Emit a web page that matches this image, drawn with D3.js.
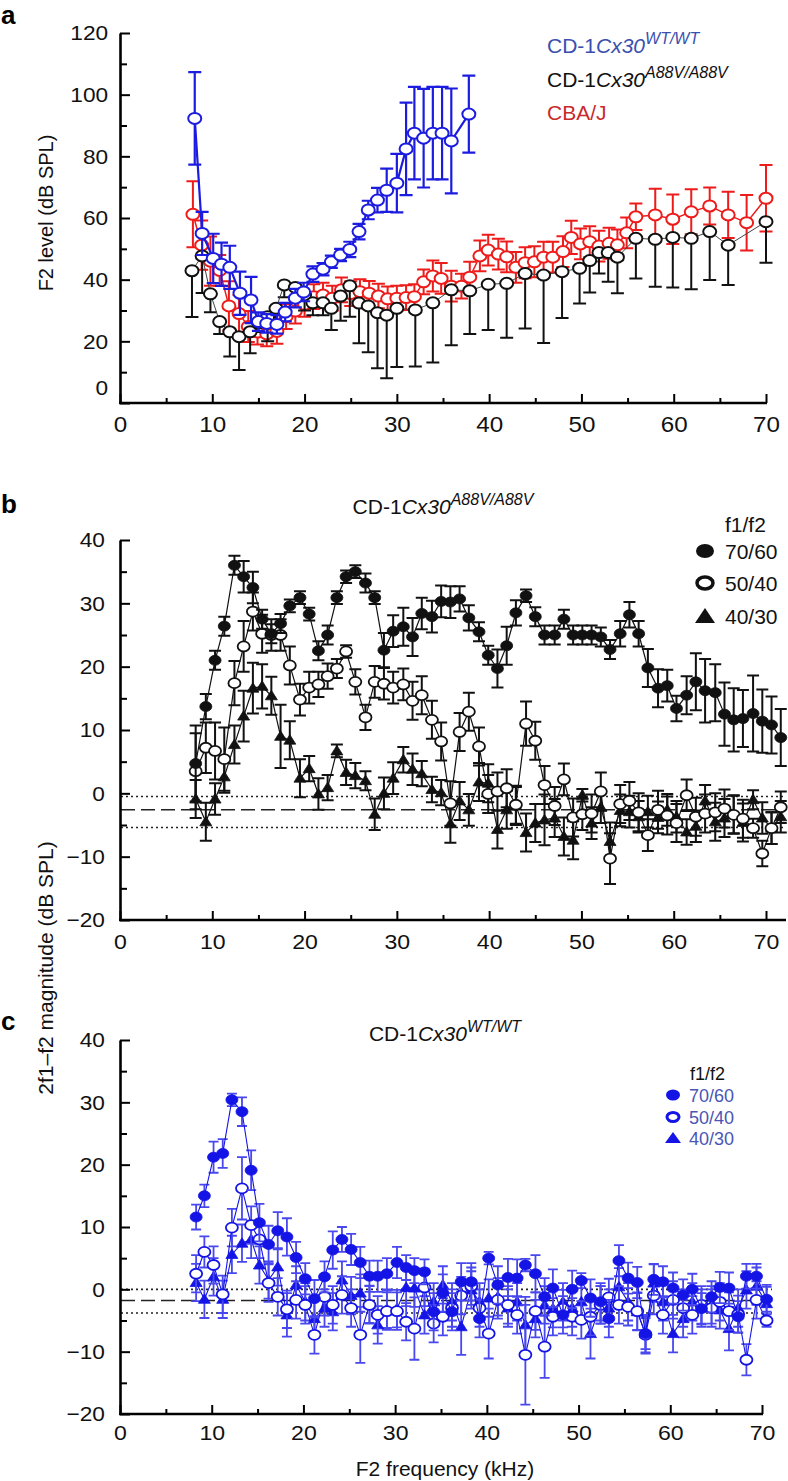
<!DOCTYPE html>
<html><head><meta charset="utf-8">
<script src="https://cdn.jsdelivr.net/npm/d3@7"></script>
<style>body{margin:0;background:#fff}svg{display:block}</style>
</head><body><svg id="chart" width="788" height="1481"></svg>
<script>
// ---------- Panel a data ----------
const aBlueFreq  = [8.1,8.9,10.1,11,11.9,13,14.2,15,15.9,17,17.9,19,19.9,20.9,22,22.9,23.9,24.9,25.9,26.9,27.9,28.9,30,31,31.9,32.9,33.9,34.9,35.9,37.8];
const aBlueLevel = [92.3,55,46.9,45,44,35.6,33.4,26.4,25.8,25.5,29.5,34,36,41.8,43.4,45.8,48,49.8,55.6,62.6,65.8,69,71.3,82.4,87.5,85.9,87.5,87.5,85,93.7];
const aBlueSD    = [15,7,8,7,7,7,7.5,3,3,3,3,3,3,2.5,2,2,2,2.5,2.5,3,4,7,9.5,15,15,16,15,15,17,12.5];

const aBlackFreq  = [7.8,8.9,9.8,10.8,11.9,12.9,14.1,15,16,16.9,17.8,19,20,20.9,22,22.9,23.9,24.9,25.9,26.9,27.9,28.9,30,32,33.9,35.9,37.9,39.9,41.9,43.9,45.9,47.9,49.8,50.9,51.9,52.9,53.9,55.9,58,59.9,61.9,63.9,65.9,70];
const aBlackLevel = [42.9,47.7,35.4,26.4,23.1,21.5,23.1,26,28,30.7,38.3,37.5,35,32.5,32.5,30.7,34.7,38,32.4,31.5,29.3,28.5,30.7,30.2,32.5,36.7,36.4,38.5,38.8,42,41.5,42.6,43.7,46.2,48.8,48.8,47.3,53.4,53.1,53.7,53.4,55.6,51.2,58.8];
const aBlackSD    = [15,12,6,4,8,10.8,7,3,8,6,4,4,5,4,4,7,8,10,13,15,18,20.5,19,18.4,19.4,18,14,14.8,17.6,17.8,22,15,11.4,10.4,6.8,9.5,11.7,13,15.4,16.2,16.5,15.7,12.9,13.3];

const aRedFreq  = [7.9,8.85,9.8,10.8,11.8,12.9,13.9,14.9,15.9,17,18,19,20,21,22,23,24,25,26,27,28,29,30,31,31.9,32.9,33.9,34.8,35.9,37,37.9,39,39.9,41,41.9,42.9,43.9,44.9,45.9,46.9,48,48.9,49.9,50.9,51.9,53,53.9,54.9,55.9,58,59.9,61.9,63.9,65.9,67.9,70];
const aRedLevel = [61.2,51.2,46,43,31.5,29,24.8,23,22.4,23.2,28,29.8,32,34.5,35,34,36.7,35.5,36.1,35.6,34.7,33.8,34,34.2,34.5,39.3,41.2,40.4,37.9,37.9,40.8,47.7,49.6,48.3,47.4,44,45.5,45.8,47.3,47.3,49.1,53.7,51.6,52.3,50.9,51.8,51.3,55.2,60.4,61,59.6,62,63.9,61,58.5,66.4];
const aRedSD    = [10.7,8,8,5,8,6,5,4,4,4,4,4,4,4,4,4,4,4,4,4,4,4,4,4,4,4,5,5,5,4,5,5,5,5,5,5,5,5,5,5,5,5.4,5,5,5,5,5,5,4.3,8.5,8,7.3,6,7.5,9,10.8];

const aLegendLabels = ["CD-1", "Cx30", "WT/WT", "A88V/A88V", "CBA/J"];
const aYTicks = [0,20,40,60,80,100,120];
const aYMinor = [10,30,50,70,90,110];
const xTicks  = [0,10,20,30,40,50,60,70];
const xMinor  = [5,15,25,35,45,55,65];

// ---------- Panel b data (CD-1 Cx30 A88V/A88V) ----------
const freqB = [8.2,9.3,10.3,11.3,12.4,13.4,14.4,15.4,16.4,17.4,18.4,19.5,20.5,21.5,22.5,23.5,24.5,25.5,26.6,27.6,28.6,29.6,30.7,31.7,32.7,33.8,34.8,35.8,36.8,37.8,38.9,39.9,40.9,41.9,42.9,44.0,45.0,46.0,47.1,48.1,49.1,50.1,51.1,52.1,53.1,54.2,55.2,56.2,57.2,58.3,59.3,60.3,61.4,62.4,63.4,64.5,65.5,66.5,67.5,68.6,69.6,70.6,71.6];
const b7060 = [4.7,13.7,21,26.4,36,34.2,32.5,27.5,25.2,26.8,29.6,30.9,28.3,22.5,25,30.9,34.2,35,33.2,30.9,22.6,25.6,26.3,24.7,28.4,27.9,30.3,30.2,30.7,27.7,25.5,21.8,19.7,23.3,28.5,31.2,27.9,25,25,27.5,25,25,25,24.7,22.7,25.2,28.2,25.2,19.8,16.6,17,13.4,15.5,17.6,16.2,15.9,12.5,11.6,11.8,12.6,11.4,10.8,8.8];
const b7060Err = [6,2,1.5,1.5,1.5,2.5,2.5,1.5,1.5,1.5,1,1,1,1.5,1.5,1,1,1,1.5,1,2.7,2.5,3,3,2.5,2.5,2.5,2.5,2,2,1.5,1.5,3,3,2,1,1.5,1.5,1.5,1.5,1.5,1.5,1.5,1.5,1.5,2,2,2,3,3,2.5,2,3,4.5,5,4.5,5,5,4.5,6,5,4.5,4.5];
const b5040 = [3.5,7.2,6.7,5.4,17.4,23.2,28.7,25.2,25,25,20.2,14.8,16.7,17.2,18.5,19.7,22.4,17.6,12,17.6,17.3,16.7,17.2,14.6,15.5,11.6,8.2,-1.6,9.7,12.9,7.4,-0.1,0.3,0.8,-1.8,11,8.3,1.3,-2,2.2,-3.8,-3.3,-3.2,0.3,-10.3,-1.7,-1.2,-3,-6.6,-2.6,-3.5,-4.7,-0.3,-3.7,-3.2,-3,-2.4,-3.4,-4,-5.5,-9.5,-5.5,-2.2];
const b5040Err = [6,4,4.5,5,3.5,4,3,3,2.5,2.5,3,2.5,2.5,2,2,1.5,1,2,2,2.5,2.5,2.5,2.5,3,3,3,3,3.5,3,3,3,3,3,3,3,3.5,3,3,3,2.5,3,2.5,3,3,4,3,3,3,2.5,3,3,3,2.5,3,3,3,3,3,3,1.5,2,2.5,2.5];
const b4030 = [-0.9,-4.5,-0.9,2.6,7.7,12.2,16.6,16.9,15.4,9,8.4,2.4,3.9,-0.1,0.9,6.7,3.3,2.8,2,-3.3,0,2.4,5.3,3.8,3.1,0.6,0.1,-4.8,-1.2,-2.6,1.8,1.6,-5.7,-2.6,-2,-6.2,-4.7,-4.2,-3.9,-6.8,-7.4,-0.3,-4.7,-2.2,-7.6,-2.7,-2.9,-3.7,-2.9,-3.8,-2.6,-3.7,-6.1,-5.2,-1.2,-4.5,-3.9,-3.3,-4.6,-1,-3.9,-5.5,-3.7];
const b4030Err = [3,3,2.5,2.5,3,4,4,3.5,3,5,3,3,2,2.5,2,1,2,2,1.5,2.5,2.5,2.5,2,2.5,2,2,2,3,3,2.5,3,3,3,3,3,3,3,4,3,3,3,1,2.5,2.5,3,2.5,2.5,2.5,2.5,2.5,2.5,2.5,2,2.5,2.5,3,3,3,3,1.5,2.5,2.5,2.5];
const bNoiseLevels = [-0.5, -2.6, -5.4];

// ---------- Panel c data (CD-1 Cx30 WT/WT) ----------
const freqC = [8.3,9.2,10.2,11.2,12.2,13.3,14.3,15.2,16.2,17.2,18.2,19.2,20.2,21.2,22.3,23.2,24.2,25.2,26.2,27.2,28.1,29.1,30.2,31.2,32.1,33.2,34.2,35.2,36.2,37.2,38.3,39.2,40.2,41.2,42.3,43.3,44.2,45.3,46.3,47.2,48.3,49.3,50.3,51.3,52.4,53.3,54.4,55.4,56.4,57.3,58.2,59.2,60.3,61.4,62.4,63.4,64.5,65.4,66.4,67.4,68.3,69.4,70.5];
const c7060 = [11.6,15,21.2,21.8,30.4,28.5,19.1,10.7,7.2,9.4,8.4,5.1,1.7,-1.5,2,6.3,8,6.4,4.3,2.1,2.1,2.5,4.3,3.5,3,2.8,-3.6,-0.6,-3.6,1.2,1.2,-4.7,5,0.7,1.9,1.8,3.9,2.5,-1.2,0.2,-4.1,0,1.4,-1.4,-2,-4.7,4.6,1.8,1.1,-7.1,1.6,1.2,0.2,-0.9,0,-3.1,-1.2,0.3,0.2,-4.4,2.1,2.1,-1.6];
const c7060Err = [2,1.8,2.5,2.3,1,2.3,3.2,3,3,3,3,2.5,2.5,3,2.5,3,2,2.5,2.5,2.5,2.5,2.5,2.5,2,2,2,3,3,3,3,3,3,1,3,3,3,1,3,3,3,3,3,1.2,3,3,3,2.5,2.5,2.5,2.5,2.5,2.5,2.5,2.5,2.5,2.5,2.5,2.5,2.5,2.5,2,2,2];
const c5040 = [2.5,6,3.9,-0.8,9.9,16.2,10.3,8,1,-1.2,-3.2,-1.7,-2.5,-7.3,-1.2,-2.5,-0.9,-3,-7.3,-2.5,-4.1,-3.5,-3.5,-5.2,-6.3,0.3,-5.5,-4.4,-3,-1,0.5,-3,-7.1,-1.7,-2.5,-4.1,-10.5,-3.5,-9.2,-4.4,-3.1,-4.4,-4.9,-4.4,-2.5,-1.3,-2.5,-2.8,-3.5,-7.3,-1,-4.1,-1.7,-3,-4.1,-2.5,-3,-2,-3.5,-4,-11.3,-1.7,-5];
const c5040Err = [3,2.5,3,3,3,5,3,3,3,3,3,3,3,3,3,3,3,3,4.5,3,3,3,3,3,5,3,3,3,3,3,3,3,4,3,3,3,8,3,5,3,3,3,3,3,3,3,3,3,3,3,3,3,3,3,3,3,3,3,3,3,2.5,3,1];
const c4030 = [1.1,-1.6,2,-1.6,5.6,7.4,8,3.9,1.5,3.6,-4.1,0.7,-2,-4.7,-3,-3.6,1.5,-1,-0.6,-2.4,-5.7,-3.2,-3.1,0.3,0.2,-4.1,-2,0.7,-2,-6,-0.1,-2,-1.4,-1.2,-3,-2,-5.7,-4.7,-2.5,-3.1,-2,-3,-2,-7.1,-2.5,-3,0.4,-2,-3.6,-7.1,1,-2,-7.1,-4.7,-2,-3,-2.5,-3.3,-6.3,-3,-0.1,0.5,-2.3];
const c4030Err = [3,3,3,3,3,3,3,3,3,3,3.5,3,3,3,3,3,3,3,3,3,3,3,3,3,3,3,3,3,3,4.5,3,3,3,3,3,3,4.5,3,3,3,3,3,3,4,3,3,3,3,3,3,3,3,3,3,3,3,3,3,3.5,3,3,3,3];
const cNoiseLevels = [0, -1.8, -3.8];

const bcYTicks = [-20,-10,0,10,20,30,40];
const bcYMinor = [-15,-5,5,15,25,35];
const legendRatios = ["70/60", "50/40", "40/30"];

// ---------- drawing ----------
const FONT = '"Liberation Sans", Arial, Helvetica, sans-serif';
const svg = d3.select('#chart');

const aX = d3.scaleLinear([0,70],[120,766]);
const aY = d3.scaleLinear([0,120],[403,33]);
const bX = d3.scaleLinear([0,70],[120,766]);
const bY = d3.scaleLinear([-20,40],[920,540]);
const cX = d3.scaleLinear([0,70],[120,762]);
const cY = d3.scaleLinear([-20,40],[1414,1040]);

function yAxis(scale, x, majors, minors, pad, fs) {
  const g = svg.append('g').attr('transform', `translate(${x},0)`);
  g.call(d3.axisLeft(scale).tickValues(majors).tickSizeInner(-10).tickSizeOuter(0).tickPadding(pad).tickFormat(d3.format('d')));
  const m = g.append('g').call(d3.axisLeft(scale).tickValues(minors).tickSizeInner(-7).tickSizeOuter(0).tickFormat(''));
  m.select('.domain').remove();
  g.selectAll('.domain').attr('stroke','#000').attr('stroke-width',2.6);
  g.selectAll('.tick line').attr('stroke','#000').attr('stroke-width',2);
  g.selectAll('text').attr('font-family',FONT).attr('font-size',fs).attr('fill','#111')
    .attr('transform','scale(1.08,1)');
  return g;
}
function xAxis(scale, y, pad, fs, xEnd) {
  const g = svg.append('g').attr('transform', `translate(0,${y})`);
  g.call(d3.axisBottom(scale).tickValues(xTicks).tickSizeInner(-9).tickSizeOuter(0).tickPadding(pad).tickFormat(d3.format('d')));
  g.append('g').call(d3.axisBottom(scale).tickValues(xMinor).tickSizeInner(-5).tickSizeOuter(0).tickFormat(''));
  g.selectAll('.domain').remove();
  g.append('line').attr('x1', scale(0)-1).attr('x2', xEnd).attr('stroke','#000').attr('stroke-width',2.6);
  g.selectAll('.tick line').attr('stroke','#000').attr('stroke-width',2);
  g.selectAll('text').attr('font-family',FONT).attr('font-size',fs).attr('fill','#111')
    .attr('transform','scale(1.1,1)');
  return g;
}

function drawSeries(xs, ys, es, sx, sy, o) {
  const g = svg.append('g');
  const pts = xs.map((f,i)=>({f:f, v:ys[i], e:es[i]}));
  const cw = o.cap/2;
  g.append('g').selectAll('path').data(pts).join('path')
    .attr('fill','none').attr('stroke', o.errColor || o.color).attr('stroke-width', o.errW)
    .attr('d', d => {
      const x = sx(d.f), yt = o.down ? sy(d.v) : sy(d.v + d.e), yb = sy(d.v - d.e);
      let p = `M${x},${yt}V${yb}M${x-cw},${yb}H${x+cw}`;
      if (!o.down) p += `M${x-cw},${yt}H${x+cw}`;
      return p;
    });
  g.append('path').datum(pts).attr('fill','none').attr('stroke', o.lineColor || o.color).attr('stroke-width', o.lineW)
    .attr('d', d3.line().x(d=>sx(d.f)).y(d=>sy(d.v)));
  const mk = g.append('g');
  if (o.marker === 'tri') {
    mk.selectAll('path').data(pts).join('path')
      .attr('fill', o.color).attr('stroke', o.color).attr('stroke-width',0.8)
      .attr('d', d => { const x=sx(d.f), y=sy(d.v); return `M${x},${y-5.5}L${x+6},${y+4}L${x-6},${y+4}Z`; });
  } else {
    mk.selectAll('ellipse').data(pts).join('ellipse')
      .attr('cx', d=>sx(d.f)).attr('cy', d=>sy(d.v)).attr('rx', o.rx).attr('ry', o.ry)
      .attr('fill', o.marker === 'filled' ? o.color : '#fff')
      .attr('stroke', o.color).attr('stroke-width', o.marker === 'filled' ? 0.8 : o.mkW);
  }
}

function noiseLines(levels, sx, sy, xEnd) {
  const styles = ['2,3','14,6','2,3'];
  svg.append('g').selectAll('line').data(levels).join('line')
    .attr('x1', 121).attr('x2', xEnd).attr('y1', d=>sy(d)).attr('y2', d=>sy(d))
    .attr('stroke','#222').attr('stroke-width',1.6).attr('stroke-dasharray',(d,i)=>styles[i]);
}

function panelLetter(t, x, y) {
  svg.append('text').attr('x',x).attr('y',y).text(t).attr('font-family',FONT)
    .attr('font-weight','bold').attr('font-size',26).attr('fill','#000');
}

function genotypeTitle(x, y, sup, color, anchor, fs, sfs) {
  const t = svg.append('text').attr('x',x).attr('y',y).attr('font-family',FONT)
    .attr('font-size',fs).attr('fill',color).attr('text-anchor',anchor);
  t.append('tspan').text(aLegendLabels[0]);
  t.append('tspan').attr('font-style','italic').text(aLegendLabels[1]);
  t.append('tspan').attr('font-style','italic').attr('font-size',sfs).attr('dy',-9).text(sup);
  return t;
}

// ===== Panel a =====
panelLetter('a', 1, 24);
const ya = yAxis(aY, 120, aYTicks, aYMinor, 11, 21);
ya.selectAll('.tick').filter(d=>d===0).select('text').attr('y',-15);
xAxis(aX, 403, 13, 22, 767);
svg.append('text').attr('transform','translate(53,213) rotate(-90)').attr('text-anchor','middle')
  .attr('font-family',FONT).attr('font-size',20).attr('fill','#111').text('F2 level (dB SPL)');

drawSeries(aRedFreq, aRedLevel, aRedSD, aX, aY, {color:'#ee1b1b', errW:2, cap:13, lineW:1.5, marker:'open', rx:6.5, ry:5.5, mkW:2});
drawSeries(aBlackFreq, aBlackLevel, aBlackSD, aX, aY, {color:'#111', errW:2, cap:13, lineW:1, lineColor:'#444', marker:'open', rx:6.5, ry:5.5, mkW:2, down:true});
drawSeries(aBlueFreq, aBlueLevel, aBlueSD, aX, aY, {color:'#1c1ce0', errW:2.2, cap:13, lineW:2.2, marker:'open', rx:6.5, ry:5.5, mkW:2});

genotypeTitle(547, 53, aLegendLabels[2], '#3b4fae', 'start', 21, 16);
genotypeTitle(547, 87, aLegendLabels[3], '#111', 'start', 21, 16);
svg.append('text').attr('x',547).attr('y',120).attr('font-family',FONT).attr('font-size',21)
  .attr('fill','#c92a2a').text(aLegendLabels[4]);

// ===== Panel b =====
panelLetter('b', 1, 513);
noiseLines(bNoiseLevels, bX, bY, 786);
yAxis(bY, 120, bcYTicks, bcYMinor, 14, 21);
xAxis(bX, 920, 14, 21, 786);
drawSeries(freqB, b4030, b4030Err, bX, bY, {color:'#111', errW:2, cap:12, lineW:1.2, marker:'tri'});
drawSeries(freqB, b5040, b5040Err, bX, bY, {color:'#111', errW:2, cap:12, lineW:1.2, marker:'open', rx:6, ry:5, mkW:1.8});
drawSeries(freqB, b7060, b7060Err, bX, bY, {color:'#111', errW:2, cap:12, lineW:1.2, marker:'filled', rx:6, ry:5});
genotypeTitle(443, 514, aLegendLabels[3], '#111', 'middle', 21, 16);

// legend b
const lb = svg.append('g');
lb.append('text').attr('x',725).attr('y',532).attr('font-family',FONT).attr('font-size',21).attr('fill','#111').text('f1/f2');
const lbY = [551, 583, 616];
lb.append('ellipse').attr('cx',705).attr('cy',lbY[0]).attr('rx',9).attr('ry',7).attr('fill','#111');
lb.append('ellipse').attr('cx',705).attr('cy',lbY[1]).attr('rx',8).attr('ry',6).attr('fill','#fff').attr('stroke','#111').attr('stroke-width',3.5);
lb.append('path').attr('d',`M705,${lbY[2]-8}L715,${lbY[2]+7}L695,${lbY[2]+7}Z`).attr('fill','#111');
lb.selectAll('text.r').data(legendRatios).join('text').attr('class','r')
  .attr('x',725).attr('y',(d,i)=>lbY[i]+8).attr('font-family',FONT).attr('font-size',21).attr('fill','#111').text(d=>d);

// shared y title
svg.append('text').attr('transform','translate(53,968) rotate(-90)').attr('text-anchor','middle')
  .attr('font-family',FONT).attr('font-size',21).attr('fill','#111').text('2f1\u2013f2 magnitude (dB SPL)');

// ===== Panel c =====
panelLetter('c', 1, 1030);
noiseLines(cNoiseLevels, cX, cY, 772);
yAxis(cY, 120, bcYTicks, bcYMinor, 14, 21);
xAxis(cX, 1414, 11, 21, 763);
const cBlue = '#1414e6';
drawSeries(freqC, c4030, c4030Err, cX, cY, {color:cBlue, errColor:'#4848ee', errW:1.8, cap:10, lineW:1.1, marker:'tri'});
drawSeries(freqC, c5040, c5040Err, cX, cY, {color:cBlue, errColor:'#4848ee', errW:1.8, cap:10, lineW:1.1, marker:'open', rx:6, ry:5, mkW:1.8});
drawSeries(freqC, c7060, c7060Err, cX, cY, {color:cBlue, errColor:'#4848ee', errW:1.8, cap:10, lineW:1.1, marker:'filled', rx:6, ry:5});
genotypeTitle(445, 1041, aLegendLabels[2], '#111', 'middle', 21, 16);
svg.append('text').attr('x',445).attr('y',1476).attr('text-anchor','middle').attr('font-family',FONT)
  .attr('font-size',21).attr('fill','#111').text('F2 frequency (kHz)');

// legend c
const lc = svg.append('g');
lc.append('text').attr('x',690).attr('y',1080).attr('font-family',FONT).attr('font-size',18).attr('fill','#111').text('f1/f2');
const lcY = [1095, 1117, 1138];
lc.append('ellipse').attr('cx',673).attr('cy',lcY[0]).attr('rx',7).attr('ry',5.5).attr('fill',cBlue);
lc.append('ellipse').attr('cx',673).attr('cy',lcY[1]).attr('rx',6).attr('ry',4.5).attr('fill','#fff').attr('stroke',cBlue).attr('stroke-width',3);
lc.append('path').attr('d',`M673,${lcY[2]-6}L681,${lcY[2]+5}L665,${lcY[2]+5}Z`).attr('fill',cBlue);
lc.selectAll('text.r').data(legendRatios).join('text').attr('class','r')
  .attr('x',689).attr('y',(d,i)=>lcY[i]+7).attr('font-family',FONT).attr('font-size',18).attr('fill','#4a55b5').text(d=>d);
</script></body></html>
